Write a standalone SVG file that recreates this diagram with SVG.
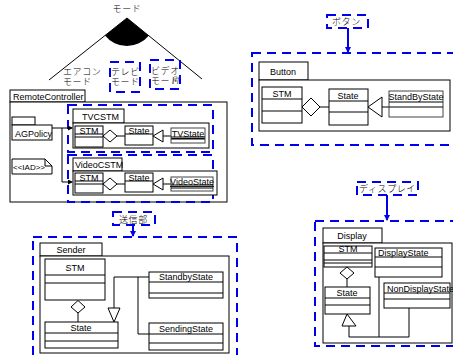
<svg xmlns="http://www.w3.org/2000/svg" width="453" height="355" viewBox="0 0 453 355">
<style>
.b{fill:#fff;stroke:#000;stroke-width:1}
.g{fill:#fff;stroke:#444;stroke-width:1}
.ln{fill:none;stroke:#000;stroke-width:1}
.d{fill:none;stroke:#0000ee;stroke-width:2;stroke-dasharray:9 6}
.t{font-family:"Liberation Sans",Arial,sans-serif;font-size:9px;fill:#000}
.s{font-family:"Liberation Sans",Arial,sans-serif;font-size:8px;fill:#000}
.j{font-family:"Noto Sans CJK JP",sans-serif;font-size:9px;font-weight:300;fill:#000;letter-spacing:0.6px}
.wh{fill:#fff;stroke:#000}
</style>
<defs>
<marker id="ab" markerWidth="6" markerHeight="6" refX="5" refY="3" orient="auto" markerUnits="userSpaceOnUse"><path d="M0,0 L6,3 L0,6 Z" fill="#0000ee"/></marker>
<marker id="ak" markerWidth="5" markerHeight="5" refX="4" refY="2.5" orient="auto" markerUnits="userSpaceOnUse"><path d="M0,0 L5,2.5 L0,5 Z" fill="#000"/></marker>
</defs>

<g id="mode">
<text class="j" x="127" y="12" text-anchor="middle" font-size="8">モード</text>
<line class="ln" x1="127" y1="18" x2="49" y2="80"/>
<line class="ln" x1="127" y1="18" x2="202" y2="79"/>
<path d="M127,18 L105,35.4 A28,28 0 0 0 148.7,35.7 Z" fill="#000"/>
<text class="j" x="63" y="75">エアコン</text>
<text class="j" x="63" y="85">モード</text>
<rect class="d" x="110" y="62" width="30" height="30"/>
<text class="j" x="111" y="75">テレビ</text>
<text class="j" x="111" y="85">モード</text>
<rect class="d" x="150" y="60" width="30" height="29"/>
<text class="j" x="151" y="74">ビデオ</text>
<text class="j" x="151" y="84">モード</text>
<text x="172" y="82" font-family="Liberation Serif,serif" font-style="italic" font-size="9" fill="#555">fif</text>
</g>

<g id="RemoteController">
<rect class="b" x="10" y="90" width="75" height="12"/>
<text class="t" x="13" y="100">RemoteController</text>
<rect class="b" x="10" y="102" width="217" height="100"/>
</g>

<g id="AGPolicy">
<rect class="b" x="12" y="117" width="23" height="8"/>
<rect class="b" x="12" y="125" width="40" height="15"/>
<text class="t" x="15" y="137">AGPolicy</text>
</g>

<g id="IAD">
<path class="b" d="M12,159 H45 L52,166 V174 H12 Z"/>
<path class="ln" d="M45,159 V166 H52"/>
<text class="s" x="13" y="170" font-size="7.5">&lt;&lt;IAD&gt;&gt;</text>
</g>

<g id="TVCSTM">
<rect class="d" x="68" y="105" width="145" height="47"/>
<rect class="b" x="73" y="109" width="51" height="14"/>
<text class="t" x="82" y="120">TVCSTM</text>
<rect class="b" x="73" y="123" width="136" height="25"/>
<rect class="b" x="75" y="126" width="28" height="21"/>
<line class="ln" x1="75" y1="134" x2="103" y2="134" stroke="#555" stroke-width="2"/>
<line class="ln" x1="75" y1="137" x2="103" y2="137"/>
<text class="t" x="89" y="134" text-anchor="middle">STM</text>
<path class="wh" d="M103,136 L110,130 L117,136 L110,142 Z"/>
<line class="ln" x1="117" y1="136" x2="125" y2="136"/>
<rect class="b" x="125" y="126" width="28" height="19"/>
<line class="ln" x1="125" y1="134" x2="153" y2="134" stroke="#555" stroke-width="2"/>
<text class="t" x="139" y="134" text-anchor="middle">State</text>
<path class="wh" d="M153,136 L163,130 L163,142 Z"/>
<line class="ln" x1="163" y1="136" x2="171" y2="136"/>
<rect class="g" x="171" y="128" width="34" height="15"/>
<line class="ln" x1="171" y1="137" x2="205" y2="137"/>
<line class="ln" x1="171" y1="139" x2="205" y2="139"/>
<text class="t" x="188" y="137" text-anchor="middle" text-decoration="underline">TVState</text>
</g>

<g id="VideoCSTM">
<rect class="d" x="68" y="155" width="145" height="47"/>
<rect class="b" x="73" y="158" width="49" height="13"/>
<text class="t" x="75" y="168">VideoCSTM</text>
<rect class="b" x="73" y="171" width="144" height="24"/>
<rect class="b" x="75" y="173" width="28" height="20"/>
<line class="ln" x1="75" y1="181" x2="103" y2="181" stroke="#555" stroke-width="2"/>
<line class="ln" x1="75" y1="184" x2="103" y2="184"/>
<text class="t" x="89" y="181" text-anchor="middle">STM</text>
<path class="wh" d="M103,184 L110,178 L117,184 L110,190 Z"/>
<line class="ln" x1="117" y1="184" x2="125" y2="184"/>
<rect class="b" x="125" y="173" width="28" height="19"/>
<line class="ln" x1="125" y1="181" x2="153" y2="181" stroke="#555" stroke-width="2"/>
<text class="t" x="139" y="181" text-anchor="middle">State</text>
<path class="wh" d="M153,184 L163,178 L163,190 Z"/>
<line class="ln" x1="163" y1="184" x2="171" y2="184"/>
<rect class="g" x="171" y="177" width="42" height="14"/>
<line class="ln" x1="171" y1="185" x2="213" y2="185" stroke="#555" stroke-width="2"/>
<line class="ln" x1="171" y1="188" x2="213" y2="188"/>
<text class="t" x="192" y="185" text-anchor="middle" text-decoration="underline">VideoState</text>
</g>

<g id="Button">
<rect class="d" x="252" y="53" width="210" height="92"/>
<rect class="b" x="259" y="62" width="49" height="18"/>
<text class="t" x="270" y="75">Button</text>
<rect class="b" x="259" y="80" width="191" height="51"/>
<rect class="b" x="262" y="87" width="40" height="36"/>
<line class="ln" x1="262" y1="99" x2="302" y2="99"/>
<line class="ln" x1="262" y1="111" x2="302" y2="111"/>
<text class="t" x="282" y="97" text-anchor="middle">STM</text>
<path class="wh" d="M302,107 L311,98 L320,107 L311,116 Z"/>
<line class="ln" x1="320" y1="107" x2="329" y2="107"/>
<rect class="b" x="329" y="89" width="39" height="36"/>
<line class="ln" x1="329" y1="101" x2="368" y2="101"/>
<line class="ln" x1="329" y1="112" x2="368" y2="112"/>
<text class="t" x="348" y="99" text-anchor="middle">State</text>
<path class="wh" d="M368,107 L382,97 L382,117 Z"/>
<line class="ln" x1="382" y1="107" x2="389" y2="107"/>
<rect class="g" x="389" y="91" width="54" height="26"/>
<line class="ln" x1="389" y1="102" x2="443" y2="102"/>
<line class="ln" x1="389" y1="107" x2="443" y2="107"/>
<text class="t" x="416" y="100" text-anchor="middle">StandByState</text>
</g>

<g id="Sender">
<rect class="d" x="33" y="237" width="204" height="125"/>
<rect class="b" x="40" y="243" width="62" height="13"/>
<text class="t" x="71" y="253" text-anchor="middle">Sender</text>
<rect class="b" x="40" y="256" width="189" height="97"/>
<rect class="b" x="45" y="259" width="60" height="41"/>
<line class="ln" x1="45" y1="275" x2="105" y2="275"/>
<line class="ln" x1="45" y1="283" x2="105" y2="283"/>
<text class="t" x="75" y="271" text-anchor="middle">STM</text>
<path class="wh" d="M78,300.5 L85,307 L78,313 L71,307 Z"/>
<line class="ln" x1="78" y1="313" x2="78" y2="322"/>
<rect class="b" x="45" y="322" width="73" height="26"/>
<line class="ln" x1="45" y1="333" x2="118" y2="333"/>
<line class="ln" x1="45" y1="341" x2="118" y2="341"/>
<text class="t" x="81" y="331" text-anchor="middle">State</text>
<path class="wh" d="M108,308 L120,308 L114,322 Z"/>
<path class="ln" d="M114,308 V277 H149 M138,277 V334 H149"/>
<rect class="b" x="149" y="272" width="74" height="26"/>
<line class="ln" x1="149" y1="282" x2="223" y2="282"/>
<line class="ln" x1="149" y1="293" x2="223" y2="293"/>
<text class="t" x="186" y="280" text-anchor="middle">StandbyState</text>
<rect class="b" x="149" y="323" width="74" height="27"/>
<line class="ln" x1="149" y1="334" x2="223" y2="334"/>
<line class="ln" x1="149" y1="343" x2="223" y2="343"/>
<text class="t" x="186" y="332" text-anchor="middle">SendingState</text>
</g>

<g id="Display">
<rect class="d" x="315" y="221" width="150" height="125"/>
<rect class="b" x="323" y="228" width="59" height="15"/>
<text class="t" x="352" y="239" text-anchor="middle">Display</text>
<rect class="b" x="323" y="243" width="129" height="100"/>
<rect class="b" x="324" y="246" width="48" height="21"/>
<line class="ln" x1="324" y1="253" x2="372" y2="253" stroke-width="1.5"/>
<line class="ln" x1="324" y1="260" x2="372" y2="260"/>
<line class="ln" x1="324" y1="263" x2="372" y2="263"/>
<text class="t" x="348" y="252" text-anchor="middle">STM</text>
<path class="wh" d="M347,267 L354,273 L347,279 L340,273 Z"/>
<line class="ln" x1="347" y1="279" x2="347" y2="287"/>
<rect class="b" x="325" y="287" width="45" height="27"/>
<line class="ln" x1="325" y1="298" x2="370" y2="298"/>
<line class="ln" x1="325" y1="305" x2="370" y2="305"/>
<text class="t" x="347" y="296" text-anchor="middle">State</text>
<rect class="b" x="375" y="248" width="67" height="29"/>
<line class="ln" x1="375" y1="257" x2="442" y2="257" stroke-width="1.5"/>
<line class="ln" x1="375" y1="267" x2="442" y2="267"/>
<text class="t" x="378" y="256">DisplayState</text>
<rect class="b" x="384" y="283" width="66" height="25"/>
<line class="ln" x1="384" y1="293" x2="450" y2="293" stroke-width="1.5"/>
<line class="ln" x1="384" y1="299" x2="450" y2="299"/>
<text class="t" x="387" y="292">NonDisplayState</text>
<path class="wh" d="M347,314 L356,326 L342,326 Z"/>
<path class="ln" d="M349,326 V337 H409 V308 M379,277 V337"/>
</g>

<g id="labels">
<rect class="d" x="327" y="15" width="41" height="13"/>
<text class="j" x="332" y="25">ボタン</text>
<rect class="d" x="113" y="212" width="42" height="13"/>
<text class="j" x="119" y="223">送信部</text>
<rect class="d" x="357" y="182" width="61" height="13"/>
<text class="j" x="359" y="192">ディスプレイ</text>
</g>

<g id="connectors">
<line x1="348" y1="28" x2="348" y2="52" stroke="#0000ee" stroke-width="2" marker-end="url(#ab)"/>
<line x1="133" y1="225" x2="133" y2="236" stroke="#0000ee" stroke-width="2" marker-end="url(#ab)"/>
<line x1="387" y1="195" x2="387" y2="220" stroke="#0000ee" stroke-width="2" marker-end="url(#ab)"/>
<path class="ln" d="M52,128 H72" marker-end="url(#ak)"/>
<path class="ln" d="M62,128 V182 H72" marker-end="url(#ak)"/>
</g>
</svg>
